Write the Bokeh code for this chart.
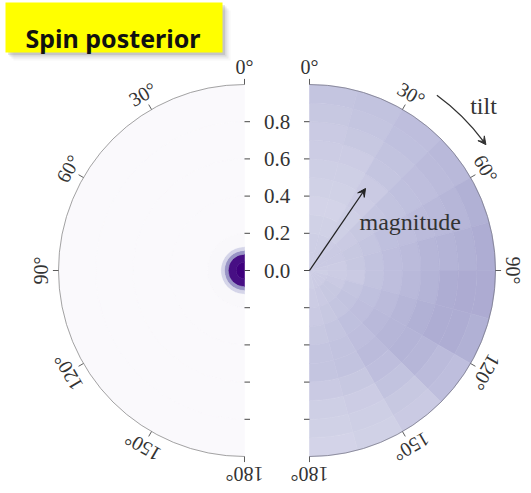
import numpy as np
from bokeh.plotting import figure
from bokeh.models import Range1d, LinearColorMapper, Arrow, VeeHead, ColumnDataSource
from bokeh.palettes import Purples256
from bokeh.transform import transform
from bokeh.embed import file_html
from bokeh.resources import INLINE
from bokeh.core.properties import value

# ---------------------------------------------------------------- data
# tilt bins (degrees from the top, 0..180) and magnitude bins
tilt_edges = [0, 15, 30, 45, 60, 75, 90, 105, 120, 135, 150, 165, 180]
right_mag_edges = [0.0, 0.1, 0.2, 0.3, 0.4, 0.5, 0.6, 0.7, 0.8, 0.9, 1.0]

# posterior density on the right half (rows: tilt bins, columns: magnitude bins)
right_density = [
    [0.30, 0.30, 0.29, 0.28, 0.29, 0.30, 0.31, 0.32, 0.33, 0.34],
    [0.30, 0.30, 0.29, 0.28, 0.29, 0.30, 0.31, 0.33, 0.34, 0.35],
    [0.31, 0.31, 0.30, 0.30, 0.31, 0.32, 0.34, 0.35, 0.36, 0.37],
    [0.32, 0.32, 0.32, 0.33, 0.34, 0.35, 0.36, 0.37, 0.38, 0.39],
    [0.32, 0.32, 0.33, 0.34, 0.36, 0.37, 0.38, 0.39, 0.40, 0.42],
    [0.31, 0.31, 0.33, 0.35, 0.37, 0.38, 0.40, 0.41, 0.42, 0.43],
    [0.30, 0.31, 0.32, 0.35, 0.37, 0.39, 0.41, 0.43, 0.44, 0.44],
    [0.31, 0.32, 0.34, 0.36, 0.38, 0.40, 0.42, 0.43, 0.43, 0.42],
    [0.31, 0.33, 0.35, 0.37, 0.39, 0.40, 0.41, 0.40, 0.38, 0.37],
    [0.31, 0.33, 0.34, 0.36, 0.37, 0.38, 0.37, 0.35, 0.33, 0.32],
    [0.31, 0.32, 0.33, 0.34, 0.35, 0.35, 0.33, 0.31, 0.30, 0.29],
    [0.30, 0.31, 0.32, 0.33, 0.34, 0.34, 0.32, 0.30, 0.29, 0.28],
]

# left half: density concentrated at zero magnitude, same in every tilt direction
left_tilt_edges = [0, 180]
left_mag_edges = [0.0, 0.045, 0.088, 0.108, 0.128, 0.2, 0.4, 0.6, 0.8, 1.0]
left_density = [1.0, 0.95, 0.52, 0.27, 0.03, 0.02, 0.02, 0.02, 0.02]

mag_ticks = [0.0, 0.2, 0.4, 0.6, 0.8]
mag_tick_labels = ["0.0", "0.2", "0.4", "0.6", "0.8"]
tilt_ticks = [0, 30, 60, 90, 120, 150, 180]
tilt_tick_labels = ["0°", "30°", "60°", "90°", "120°", "150°", "180°"]

# ---------------------------------------------------------------- layout
W, H = 531, 493
SCALE = 186.0          # screen pixels per unit of magnitude
MID_X, MID_Y = 276.5, 270.0
HALF_GAP = 32.5 / SCALE
LEFT_CX, RIGHT_CX = -HALF_GAP, HALF_GAP


def px(xp, yp):
    """screen pixel position -> data position"""
    return (xp - MID_X) / SCALE, (MID_Y - yp) / SCALE


x0, y1 = px(0, 0)
x1, y0 = px(W, H)

p = figure(width=W, height=H, output_backend="svg", toolbar_location=None,
           x_range=Range1d(x0, x1), y_range=Range1d(y0, y1),
           x_axis_type=None, y_axis_type=None, min_border=0,
           outline_line_color=None)
p.grid.visible = False
p.background_fill_color = "white"
p.border_fill_color = "white"

mapper = LinearColorMapper(palette=list(reversed(Purples256)), low=0.0, high=1.0)


def wedges(cx, side, t_edges, m_edges, dens2d):
    xs, ys, r0, r1, a0, a1, d = [], [], [], [], [], [], []
    for i in range(len(t_edges) - 1):
        for j in range(len(m_edges) - 1):
            tl, th = np.radians(t_edges[i]), np.radians(t_edges[i + 1])
            if side > 0:
                s, e = np.pi / 2 - th, np.pi / 2 - tl
            else:
                s, e = np.pi / 2 + tl, np.pi / 2 + th
            xs.append(cx); ys.append(0.0)
            r0.append(m_edges[j]); r1.append(m_edges[j + 1])
            a0.append(s); a1.append(e)
            d.append(dens2d[i][j])
    return ColumnDataSource(dict(x=xs, y=ys, r0=r0, r1=r1, a0=a0, a1=a1, d=d))


src_r = wedges(RIGHT_CX, 1, tilt_edges, right_mag_edges, right_density)
src_l = wedges(LEFT_CX, -1, left_tilt_edges, left_mag_edges, [left_density])

for src in (src_l, src_r):
    p.annular_wedge(x="x", y="y", inner_radius="r0", outer_radius="r1",
                    start_angle="a0", end_angle="a1", source=src,
                    fill_color=transform("d", mapper),
                    line_color=transform("d", mapper), line_width=0.6)

# disk outlines
p.arc(x=LEFT_CX, y=0, radius=1.0, start_angle=np.pi / 2, end_angle=3 * np.pi / 2,
      line_color="#8c8c8c", line_width=0.8)
p.arc(x=RIGHT_CX, y=0, radius=1.0, start_angle=-np.pi / 2, end_angle=np.pi / 2,
      line_color="#7a7a8a", line_width=0.8)

# tilt ticks and labels around each half
TXT = "#333333"
serif = value("Liberation Serif")
for cx, side in ((LEFT_CX, -1), (RIGHT_CX, 1)):
    ang = [np.pi / 2 - side * np.radians(t) for t in tilt_ticks]
    p.segment(x0=[cx + np.cos(a) for a in ang], y0=[np.sin(a) for a in ang],
              x1=[cx + 1.03 * np.cos(a) for a in ang], y1=[1.03 * np.sin(a) for a in ang],
              line_color="#333333", line_width=0.8)
    p.text(x=[cx + 1.095 * np.cos(a) for a in ang], y=[1.095 * np.sin(a) for a in ang],
           text=tilt_tick_labels, angle=[-side * np.radians(t) for t in tilt_ticks],
           text_align="center", text_baseline="middle", text_font=serif,
           text_font_size="20px", text_color=TXT)

# magnitude ticks along the central axis
tick_y = mag_ticks + [-m for m in mag_ticks[1:]]
tl = 5.5 / SCALE
p.segment(x0=[LEFT_CX] * len(tick_y), y0=tick_y, x1=[LEFT_CX + tl] * len(tick_y), y1=tick_y,
          line_color="#333333", line_width=0.9)
p.segment(x0=[RIGHT_CX - tl] * len(tick_y), y0=tick_y, x1=[RIGHT_CX] * len(tick_y), y1=tick_y,
          line_color="#333333", line_width=0.9)
p.text(x=[0.0] * len(mag_ticks), y=mag_ticks, text=mag_tick_labels,
       text_align="center", text_baseline="middle", text_font=serif,
       text_font_size="21px", text_color=TXT)

# magnitude arrow
ax, ay = px(365, 188)
p.add_layout(Arrow(end=VeeHead(size=8, fill_color="#222222", line_color="#222222", line_width=1),
                   x_start=RIGHT_CX, y_start=0.0, x_end=ax, y_end=ay,
                   line_color="#222222", line_width=1.3))
mx, my = px(359, 221)
p.text(x=[mx], y=[my], text=["magnitude"], text_align="left", text_baseline="middle",
       text_font=serif, text_font_size="24px", text_color=TXT)

# curved tilt arrow
R_ARC = 1.165
t_start, t_end = np.radians(36), np.radians(53.5)
p.arc(x=RIGHT_CX, y=0, radius=R_ARC, start_angle=np.pi / 2 - t_end,
      end_angle=np.pi / 2 - t_start, line_color="#333333", line_width=1.3)
a_pre, a_tip = np.pi / 2 - np.radians(52), np.pi / 2 - np.radians(54.5)
p.add_layout(Arrow(end=VeeHead(size=8, fill_color="#333333", line_color="#333333", line_width=1),
                   x_start=RIGHT_CX + R_ARC * np.cos(a_pre), y_start=R_ARC * np.sin(a_pre),
                   x_end=RIGHT_CX + R_ARC * np.cos(a_tip), y_end=R_ARC * np.sin(a_tip),
                   line_alpha=0.0))
tx, ty = px(483, 105)
p.text(x=[tx], y=[ty], text=["tilt"], text_align="center", text_baseline="middle",
       text_font=serif, text_font_size="24px", text_color=TXT)

# title badge with a soft shadow
for k, alpha in ((8, 0.04), (6, 0.07), (4, 0.10), (2.5, 0.13)):
    l, t = px(5 + k, 2 + k)
    r, b = px(222 + k, 52 + k)
    p.quad(left=[l], right=[r], top=[t], bottom=[b], fill_color="#444444",
           fill_alpha=alpha, line_color=None)
l, t = px(5, 2)
r, b = px(222, 52)
p.quad(left=[l], right=[r], top=[t], bottom=[b], fill_color="#ffff00", line_color=None)
sx, sy = px(25, 37)
p.text(x=[sx], y=[sy], text=["Spin posterior"], text_align="left",
       text_baseline="alphabetic", text_font=value("Noto Sans"),
       text_font_size="25px", text_font_style="bold", text_color="#111111")

open("out.html", "w").write(file_html(p, INLINE))
